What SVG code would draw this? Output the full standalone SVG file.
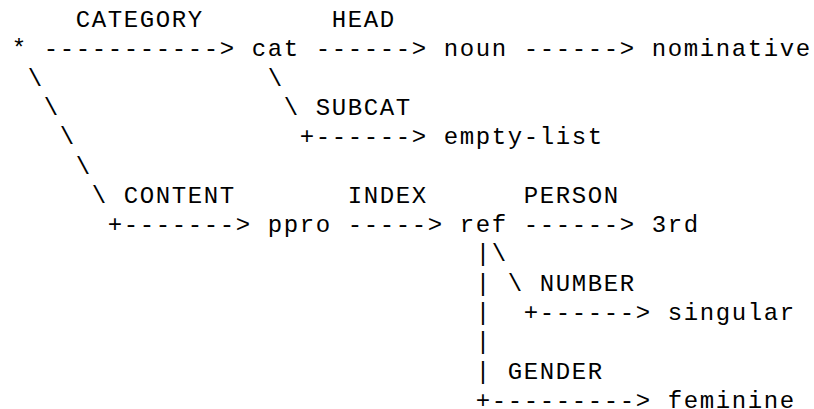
<svg xmlns="http://www.w3.org/2000/svg" width="814" height="409" viewBox="0 0 814 409">
<style>
text { font-family: "Liberation Mono", "Courier New", monospace; font-size: 24px; letter-spacing: 1.6px; fill: #000; white-space: pre; }
</style>
<rect width="814" height="409" fill="#ffffff"/>
<g id="connectors">
<text x="75.8" y="27">CATEGORY</text>
<text x="43.8" y="56.3">-----------&gt;</text>
<text x="331.8" y="27">HEAD</text>
<text x="315.8" y="56.3">------&gt;</text>
<text x="523.8" y="56.3">------&gt;</text>
<text x="267.8" y="85.6">\</text>
<text x="283.8" y="114.9">\</text>
<text x="315.8" y="114.9">SUBCAT</text>
<text x="299.8" y="144.2">+------&gt;</text>
<text x="27.8" y="85.6">\</text>
<text x="43.8" y="114.9">\</text>
<text x="59.8" y="144.2">\</text>
<text x="75.8" y="173.5">\</text>
<text x="91.8" y="202.8">\</text>
<text x="123.8" y="202.8">CONTENT</text>
<text x="107.8" y="232.1">+-------&gt;</text>
<text x="347.8" y="202.8">INDEX</text>
<text x="347.8" y="232.1">-----&gt;</text>
<text x="523.8" y="202.8">PERSON</text>
<text x="523.8" y="232.1">------&gt;</text>
<text x="475.8" y="261.4">|</text>
<text x="491.8" y="261.4">\</text>
<text x="475.8" y="290.7">|</text>
<text x="507.8" y="290.7">\</text>
<text x="539.8" y="290.7">NUMBER</text>
<text x="475.8" y="320">|</text>
<text x="523.8" y="320">+------&gt;</text>
<text x="475.8" y="349.3">|</text>
<text x="475.8" y="378.6">|</text>
<text x="507.8" y="378.6">GENDER</text>
<text x="475.8" y="407.9">+---------&gt;</text>
</g>
<g id="node-root"><text x="11.8" y="56.3">*</text></g>
<g id="node-cat"><text x="251.8" y="56.3">cat</text></g>
<g id="node-noun"><text x="443.8" y="56.3">noun</text></g>
<g id="node-nominative"><text x="651.8" y="56.3">nominative</text></g>
<g id="node-empty-list"><text x="443.8" y="144.2">empty-list</text></g>
<g id="node-ppro"><text x="267.8" y="232.1">ppro</text></g>
<g id="node-ref"><text x="459.8" y="232.1">ref</text></g>
<g id="node-3rd"><text x="651.8" y="232.1">3rd</text></g>
<g id="node-singular"><text x="667.8" y="320">singular</text></g>
<g id="node-feminine"><text x="667.8" y="407.9">feminine</text></g>
</svg>
